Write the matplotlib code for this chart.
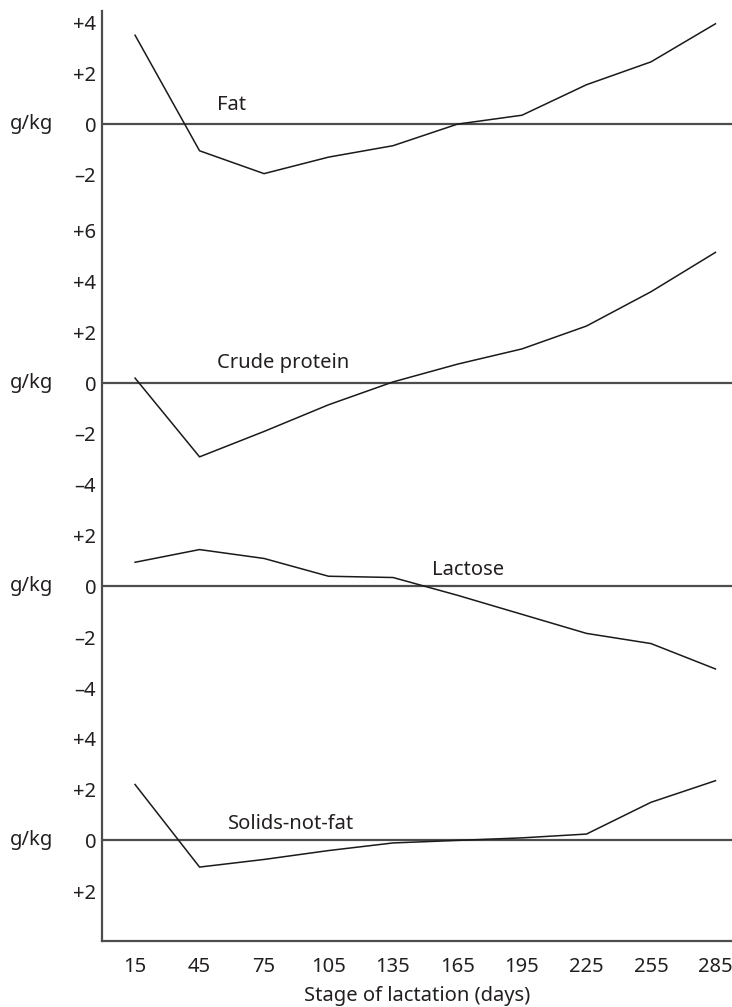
import matplotlib
matplotlib.use("Agg")
import matplotlib.pyplot as plt
import matplotlib.transforms as mtransforms

# stage of lactation (days)
days = [15, 45, 75, 105, 135, 165, 195, 225, 255, 285]

# deviation from lactation mean, g/kg
fat = [3.5, -1.05, -1.95, -1.3, -0.85, 0.0, 0.35, 1.55, 2.45, 3.95]
crude_protein = [0.2, -2.9, -1.9, -0.85, 0.05, 0.75, 1.35, 2.25, 3.6, 5.15]
lactose = [0.95, 1.45, 1.1, 0.4, 0.35, -0.35, -1.1, -1.85, -2.25, -3.25]
solids_not_fat = [2.2, -1.05, -0.75, -0.4, -0.1, 0.0, 0.1, 0.25, 1.5, 2.35]

panel_names = ["Fat", "Crude protein", "Lactose", "Solids-not-fat"]
panel_series = [fat, crude_protein, lactose, solids_not_fat]

# tick values and labels shown on each panel (last one is printed "+2" in the original)
panel_tick_values = [[4, 2, 0, -2], [6, 4, 2, 0, -2, -4], [2, 0, -2, -4], [4, 2, 0, -2]]
panel_tick_labels = [["+4", "+2", "0", "\u20132"],
                     ["+6", "+4", "+2", "0", "\u20132", "\u20134"],
                     ["+2", "0", "\u20132", "\u20134"],
                     ["+4", "+2", "0", "+2"]]

# layout: vertical shift of each panel's zero line and where its name sits
panel_offsets = [0.0, -10.2, -18.2, -28.2]
name_x = [53, 53, 153, 58]
name_dy = [0.35, 0.4, 0.25, 0.25]

plt.rcParams["font.family"] = ["Noto Sans", "DejaVu Sans"]
text_color = "#231f20"
fs = 14.5

fig = plt.figure(figsize=(7.32, 10.07), dpi=100)
ax = fig.add_axes([0.139, 0.0658, 0.861, 0.9232])

yticks, ylabels = [], []
for name, series, vals, labs, off, nx, ndy in zip(panel_names, panel_series, panel_tick_values,
                                                  panel_tick_labels, panel_offsets, name_x, name_dy):
    ax.axhline(off, color="#4d4d4d", linewidth=1.6, zorder=1)
    ax.plot(days, [v + off for v in series], color="#1a1a1a", linewidth=1.1, zorder=2)
    ax.text(nx, off + ndy, name, fontsize=fs, color=text_color, ha="left", va="bottom")
    yticks += [v + off for v in vals]
    ylabels += labs

    # "g/kg" label at the zero line of every panel
    trans = mtransforms.blended_transform_factory(fig.transFigure, ax.transData)
    ax.text(0.014, off, "g/kg", transform=trans, fontsize=fs, color=text_color,
            ha="left", va="center")

ax.set_yticks(yticks)
ax.set_yticklabels(ylabels)
ax.set_xticks(days)
ax.set_xticklabels([str(d) for d in days])
ax.tick_params(axis="both", length=0, labelsize=fs, colors=text_color)
ax.tick_params(axis="y", pad=4)
ax.tick_params(axis="x", pad=12)

ax.set_xlim(-0.5, 292.7)
ax.set_ylim(-32.15, 4.45)

for side in ["top", "right"]:
    ax.spines[side].set_visible(False)
for side in ["left", "bottom"]:
    ax.spines[side].set_color("#4d4d4d")
    ax.spines[side].set_linewidth(1.6)

ax.set_xlabel("Stage of lactation (days)", fontsize=fs, color=text_color, labelpad=6)

fig.savefig("out.png", dpi=100)
plt.close(fig)
